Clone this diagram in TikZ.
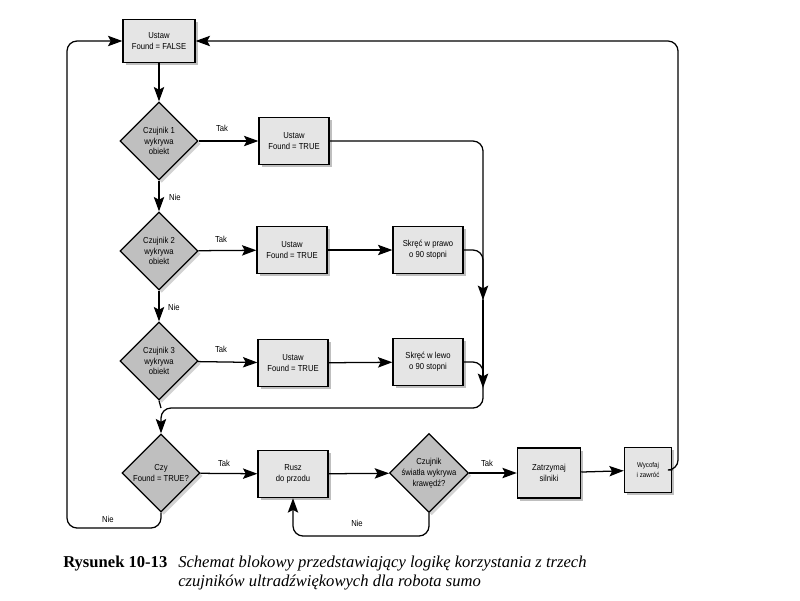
\documentclass[tikz,border=0pt]{standalone}
\usepackage{fontspec}
\setmainfont{Liberation Serif}
\newfontfamily\chartfont[FakeStretch=0.88]{Liberation Sans}
\usetikzlibrary{shapes.geometric,arrows.meta,shadows}

\tikzstyle{step box}=[draw,rectangle,line width=0.9pt,fill=gray!20,
    minimum width=1.75cm,minimum height=1.18cm,inner sep=1pt,align=center,
    font=\chartfont\fontsize{6.2}{7.7}\selectfont,
    drop shadow={shadow xshift=0.07cm,shadow yshift=-0.07cm,fill=gray!50,opacity=1}]
\tikzstyle{question}=[draw,diamond,aspect=1,line width=0.9pt,fill=gray!50,
    minimum size=1.95cm,inner sep=-1pt,align=center,
    font=\chartfont\fontsize{6.2}{7.7}\selectfont,
    drop shadow={shadow xshift=0.07cm,shadow yshift=-0.07cm,fill=gray!35,opacity=1}]
\tikzstyle{flow}=[line width=0.9pt,rounded corners=2.5mm,
    -{Stealth[length=3.6mm,width=2.6mm,inset=0.7mm]}]
\tikzstyle{plain flow}=[line width=0.9pt,rounded corners=2.5mm]
\tikzstyle{answer}=[font=\chartfont\fontsize{6.2}{7}\selectfont,inner sep=1pt]
\newcommand{\stepbox}[4][]{
    \node[step box,#1] at (#2) (#3) {#4};
}
\newcommand{\question}[3]{
    \node[question] at (#1) (#2) {#3};
}

\begin{document}
\begin{tikzpicture}[x=0.025cm,y=-0.025cm]
    \useasboundingbox (0,0) rectangle (800,600);
    %
    \stepbox[minimum width=1.8cm,minimum height=1.08cm]{159,41}{found0}{Ustaw\\Found = FALSE}
    %
    \question{159,141}{sens1}{Czujnik 1\\wykrywa\\obiekt}
    \stepbox{294,141}{set1}{Ustaw\\Found = TRUE}
    %
    \question{159,251}{sens2}{Czujnik 2\\wykrywa\\obiekt}
    \stepbox{292,250}{set2}{Ustaw\\Found = TRUE}
    \stepbox{428,250}{right2}{Skręć w prawo\\o 90 stopni}
    %
    \question{159,361}{sens3}{Czujnik 3\\wykrywa\\obiekt}
    \stepbox{293,363}{set3}{Ustaw\\Found = TRUE}
    \stepbox{428,362}{left3}{Skręć w lewo\\o 90 stopni}
    %
    \question{161,473}{decide}{Czy\\Found = TRUE?}
    \stepbox{293,474}{move}{Rusz\\do przodu}
    \question{429,473}{edge}{Czujnik\\światła wykrywa\\krawędź?}
    \stepbox[minimum width=1.58cm,minimum height=1.25cm]{549,473}{stop}{Zatrzymaj\\silniki}
    \stepbox[minimum width=1.18cm,minimum height=1.12cm,
        font=\chartfont\fontsize{5}{6.5}\selectfont]{648,470}{back}{Wycofaj\\i zawróć}
    %
    \coordinate (join1) at (483,300);
    \coordinate (join2) at (483,388);
    \coordinate (join3) at (161,408);
    \coordinate (loop1) at (360,536);
    \coordinate (loop2) at (67,528);
    \coordinate (top) at (678,41);
    %
    \draw[flow] (found0) -- (sens1);
    \draw[flow] (sens1) -- (set1);
    \draw[flow] (sens1) -- (sens2);
    \draw[flow] (sens2) -- (set2);
    \draw[flow] (set2) -- (right2);
    \draw[flow] (sens2) -- (sens3);
    \draw[flow] (sens3) -- (set3);
    \draw[flow] (set3) -- (left3);
    %
    \draw[flow] (set1.east) -| (join1);
    \draw[plain flow] (right2.east) -| (join1);
    \draw[flow] (join1) -- (join2);
    \draw[plain flow] (left3.east) -| (join2);
    \draw[flow] (join2) |- (join3) -- (decide.north);
    \draw[plain flow] (sens3.south) -- (join3);
    %
    \draw[flow] (decide) -- (move);
    \draw[flow] (move) -- (edge);
    \draw[flow] (edge) -- (stop);
    \draw[flow] (stop) -- (back);
    \draw[flow] (back.east) -| (top) -- (found0.east);
    \draw[flow] (edge.south) |- (loop1) -| (move.south);
    \draw[flow] (decide.south) |- (loop2) |- (found0.west);
    %
    \node[answer] (tak1) at (222,128) {Tak};
    \node[answer] (nie1) at (175,197) {Nie};
    \node[answer] (tak2) at (221,239) {Tak};
    \node[answer] (nie2) at (174,307) {Nie};
    \node[answer] (tak3) at (221,349) {Tak};
    \node[answer] (tak4) at (224,463) {Tak};
    \node[answer] (tak5) at (487,463) {Tak};
    \node[answer] (nie4) at (108,519) {Nie};
    \node[answer] (nie5) at (357,523) {Nie};
    %
    \node[anchor=base west,inner sep=0pt,font=\fontsize{11.8}{14}\selectfont\bfseries]
        (fignum) at (63,567) {Rysunek 10-13};
    \node[anchor=base west,inner sep=0pt,font=\fontsize{11.8}{14}\selectfont\itshape]
        (cap1) at (178,567) {Schemat blokowy przedstawiający logikę korzystania z trzech};
    \node[anchor=base west,inner sep=0pt,font=\fontsize{11.8}{14}\selectfont\itshape]
        (cap2) at (178,586) {czujników ultradźwiękowych dla robota sumo};
\end{tikzpicture}
\end{document}
